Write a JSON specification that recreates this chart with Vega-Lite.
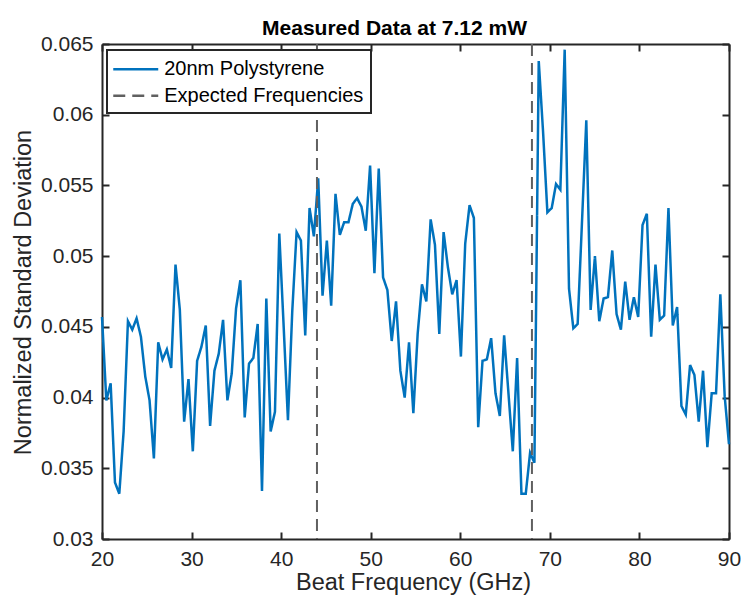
{
  "$schema": "https://vega.github.io/schema/vega-lite/v6.json",
  "width": 627,
  "height": 495,
  "autosize": {"type": "none"},
  "padding": {"left": 102, "top": 44, "right": 14, "bottom": 64},
  "background": "white",
  "title": {
    "text": "Measured Data at 7.12 mW",
    "font": "Liberation Sans",
    "fontSize": 21,
    "fontWeight": "bold",
    "color": "#000000",
    "anchor": "middle",
    "baseline": "alphabetic",
    "offset": 9,
    "dy": 32,
    "dx": -21
  },
  "datasets": {
    "scan": [
      {"frequency": 20.000, "sd": 0.0457}, {"frequency": 20.483, "sd": 0.0398}, {"frequency": 20.966, "sd": 0.0410},
      {"frequency": 21.448, "sd": 0.0340}, {"frequency": 21.931, "sd": 0.0332}, {"frequency": 22.414, "sd": 0.0376},
      {"frequency": 22.897, "sd": 0.0454}, {"frequency": 23.379, "sd": 0.0448}, {"frequency": 23.862, "sd": 0.0456},
      {"frequency": 24.345, "sd": 0.0443}, {"frequency": 24.828, "sd": 0.0415}, {"frequency": 25.310, "sd": 0.0398},
      {"frequency": 25.793, "sd": 0.0357}, {"frequency": 26.276, "sd": 0.0439}, {"frequency": 26.759, "sd": 0.0427},
      {"frequency": 27.241, "sd": 0.0434}, {"frequency": 27.724, "sd": 0.0421}, {"frequency": 28.207, "sd": 0.0494},
      {"frequency": 28.690, "sd": 0.0462}, {"frequency": 29.172, "sd": 0.0383}, {"frequency": 29.655, "sd": 0.0413},
      {"frequency": 30.138, "sd": 0.0362}, {"frequency": 30.621, "sd": 0.0426}, {"frequency": 31.103, "sd": 0.0436},
      {"frequency": 31.586, "sd": 0.0451}, {"frequency": 32.069, "sd": 0.0380}, {"frequency": 32.552, "sd": 0.0419},
      {"frequency": 33.034, "sd": 0.0431}, {"frequency": 33.517, "sd": 0.0455}, {"frequency": 34.000, "sd": 0.0398},
      {"frequency": 34.483, "sd": 0.0417}, {"frequency": 34.966, "sd": 0.0463}, {"frequency": 35.448, "sd": 0.0483},
      {"frequency": 35.931, "sd": 0.0386}, {"frequency": 36.414, "sd": 0.0424}, {"frequency": 36.897, "sd": 0.0428},
      {"frequency": 37.379, "sd": 0.0452}, {"frequency": 37.862, "sd": 0.0334}, {"frequency": 38.345, "sd": 0.0470},
      {"frequency": 38.828, "sd": 0.0376}, {"frequency": 39.310, "sd": 0.0390}, {"frequency": 39.793, "sd": 0.0516},
      {"frequency": 40.276, "sd": 0.0451}, {"frequency": 40.759, "sd": 0.0384}, {"frequency": 41.241, "sd": 0.0461},
      {"frequency": 41.724, "sd": 0.0517}, {"frequency": 42.207, "sd": 0.0511}, {"frequency": 42.690, "sd": 0.0444},
      {"frequency": 43.172, "sd": 0.0534}, {"frequency": 43.655, "sd": 0.0514}, {"frequency": 44.138, "sd": 0.0555},
      {"frequency": 44.621, "sd": 0.0472}, {"frequency": 45.103, "sd": 0.0511}, {"frequency": 45.586, "sd": 0.0465},
      {"frequency": 46.069, "sd": 0.0544}, {"frequency": 46.552, "sd": 0.0515}, {"frequency": 47.034, "sd": 0.0524},
      {"frequency": 47.517, "sd": 0.0524}, {"frequency": 48.000, "sd": 0.0537}, {"frequency": 48.483, "sd": 0.0541},
      {"frequency": 48.966, "sd": 0.0535}, {"frequency": 49.448, "sd": 0.0518}, {"frequency": 49.931, "sd": 0.0564},
      {"frequency": 50.414, "sd": 0.0488}, {"frequency": 50.897, "sd": 0.0562}, {"frequency": 51.379, "sd": 0.0485},
      {"frequency": 51.862, "sd": 0.0476}, {"frequency": 52.345, "sd": 0.0440}, {"frequency": 52.828, "sd": 0.0468},
      {"frequency": 53.310, "sd": 0.0419}, {"frequency": 53.793, "sd": 0.0400}, {"frequency": 54.276, "sd": 0.0439},
      {"frequency": 54.759, "sd": 0.0389}, {"frequency": 55.241, "sd": 0.0445}, {"frequency": 55.724, "sd": 0.0480},
      {"frequency": 56.207, "sd": 0.0468}, {"frequency": 56.690, "sd": 0.0526}, {"frequency": 57.172, "sd": 0.0508},
      {"frequency": 57.655, "sd": 0.0445}, {"frequency": 58.138, "sd": 0.0517}, {"frequency": 58.621, "sd": 0.0492},
      {"frequency": 59.103, "sd": 0.0473}, {"frequency": 59.586, "sd": 0.0483}, {"frequency": 60.069, "sd": 0.0429},
      {"frequency": 60.552, "sd": 0.0509}, {"frequency": 61.034, "sd": 0.0536}, {"frequency": 61.517, "sd": 0.0527},
      {"frequency": 62.000, "sd": 0.0379}, {"frequency": 62.483, "sd": 0.0426}, {"frequency": 62.966, "sd": 0.0427},
      {"frequency": 63.448, "sd": 0.0442}, {"frequency": 63.931, "sd": 0.0403}, {"frequency": 64.414, "sd": 0.0387},
      {"frequency": 64.897, "sd": 0.0444}, {"frequency": 65.379, "sd": 0.0403}, {"frequency": 65.862, "sd": 0.0362},
      {"frequency": 66.345, "sd": 0.0428}, {"frequency": 66.828, "sd": 0.0332}, {"frequency": 67.310, "sd": 0.0332},
      {"frequency": 67.793, "sd": 0.0361}, {"frequency": 68.276, "sd": 0.0354}, {"frequency": 68.759, "sd": 0.0638},
      {"frequency": 69.241, "sd": 0.0588}, {"frequency": 69.724, "sd": 0.0531}, {"frequency": 70.207, "sd": 0.0534},
      {"frequency": 70.690, "sd": 0.0551}, {"frequency": 71.172, "sd": 0.0547}, {"frequency": 71.655, "sd": 0.0646},
      {"frequency": 72.138, "sd": 0.0477}, {"frequency": 72.621, "sd": 0.0449}, {"frequency": 73.103, "sd": 0.0452},
      {"frequency": 73.586, "sd": 0.0524}, {"frequency": 74.069, "sd": 0.0596}, {"frequency": 74.552, "sd": 0.0462},
      {"frequency": 75.034, "sd": 0.0500}, {"frequency": 75.517, "sd": 0.0454}, {"frequency": 76.000, "sd": 0.0470},
      {"frequency": 76.483, "sd": 0.0471}, {"frequency": 76.966, "sd": 0.0504}, {"frequency": 77.448, "sd": 0.0459},
      {"frequency": 77.931, "sd": 0.0448}, {"frequency": 78.414, "sd": 0.0482}, {"frequency": 78.897, "sd": 0.0455},
      {"frequency": 79.379, "sd": 0.0471}, {"frequency": 79.862, "sd": 0.0457}, {"frequency": 80.345, "sd": 0.0522},
      {"frequency": 80.828, "sd": 0.0530}, {"frequency": 81.310, "sd": 0.0443}, {"frequency": 81.793, "sd": 0.0494},
      {"frequency": 82.276, "sd": 0.0455}, {"frequency": 82.759, "sd": 0.0458}, {"frequency": 83.241, "sd": 0.0534},
      {"frequency": 83.724, "sd": 0.0451}, {"frequency": 84.207, "sd": 0.0464}, {"frequency": 84.690, "sd": 0.0394},
      {"frequency": 85.172, "sd": 0.0388}, {"frequency": 85.655, "sd": 0.0423}, {"frequency": 86.138, "sd": 0.0416},
      {"frequency": 86.621, "sd": 0.0383}, {"frequency": 87.103, "sd": 0.0419}, {"frequency": 87.586, "sd": 0.0365},
      {"frequency": 88.069, "sd": 0.0403}, {"frequency": 88.552, "sd": 0.0403}, {"frequency": 89.034, "sd": 0.0473},
      {"frequency": 89.517, "sd": 0.0401}, {"frequency": 90.000, "sd": 0.0367}
    ],
    "expected": [
      {"frequency": 44, "series": "Expected Frequencies"},
      {"frequency": 68, "series": "Expected Frequencies"}
    ]
  },
  "layer": [
    {
      "data": {"name": "scan"},
      "mark": {"type": "line", "strokeWidth": 2.5},
      "encoding": {
        "x": {
          "field": "frequency",
          "type": "quantitative",
          "scale": {"domain": [20, 90], "nice": false},
          "axis": {
            "orient": "bottom",
            "title": "Beat Frequency (GHz)",
            "values": [20, 30, 40, 50, 60, 70, 80, 90],
            "labelFlush": false,
            "titleBaseline": "alphabetic",
            "titleY": 50,
            "titleX": 311
          }
        },
        "y": {
          "field": "sd",
          "type": "quantitative",
          "scale": {"domain": [0.03, 0.065], "nice": false, "zero": false},
          "axis": {
            "orient": "left",
            "title": "Normalized Standard Deviation",
            "values": [0.03, 0.035, 0.04, 0.045, 0.05, 0.055, 0.06, 0.065],
            "format": ".3~f",
            "labelFlush": false,
            "titleBaseline": "alphabetic",
            "titleAngle": -90,
            "titleX": -72,
            "titleY": 248
          }
        },
        "color": {
          "datum": "20nm Polystyrene",
          "type": "nominal",
          "scale": {"domain": ["20nm Polystyrene", "Expected Frequencies"], "range": ["#0072BD", "#606060"]},
          "legend": {"title": null, "symbolType": "M-2,0H2"}
        },
        "strokeDash": {
          "datum": "20nm Polystyrene",
          "type": "nominal",
          "scale": {"domain": ["20nm Polystyrene", "Expected Frequencies"], "range": [[1, 0], [12, 7]]},
          "legend": {"title": null, "symbolType": "M-2,0H2"}
        }
      }
    },
    {
      "data": {"name": "expected"},
      "mark": {"type": "rule", "strokeWidth": 2},
      "encoding": {
        "x": {
          "field": "frequency",
          "type": "quantitative",
          "axis": {"orient": "top", "labels": false, "title": null, "values": [20, 30, 40, 50, 60, 70, 80, 90]}
        },
        "color": {"field": "series", "type": "nominal", "legend": {"title": null, "symbolType": "M-2,0H2"}},
        "strokeDash": {"field": "series", "type": "nominal", "legend": {"title": null, "symbolType": "M-2,0H2"}}
      }
    },
    {
      "data": {"name": "scan"},
      "mark": {"type": "line", "opacity": 0},
      "encoding": {
        "x": {"field": "frequency", "type": "quantitative", "axis": null},
        "y": {
          "field": "sd",
          "type": "quantitative",
          "axis": {"orient": "right", "labels": false, "title": null, "values": [0.03, 0.035, 0.04, 0.045, 0.05, 0.055, 0.06, 0.065]}
        }
      }
    }
  ],
  "resolve": {"axis": {"x": "independent", "y": "independent"}},
  "config": {
    "view": {"stroke": null},
    "axis": {
      "grid": false,
      "domainColor": "#262626",
      "domainWidth": 2,
      "tickColor": "#262626",
      "tickWidth": 2,
      "tickSize": -7,
      "labelFont": "Liberation Sans",
      "labelFontSize": 21,
      "labelColor": "#262626",
      "labelPadding": 16,
      "titleFont": "Liberation Sans",
      "titleFontSize": 23.5,
      "titleFontWeight": "normal",
      "titleColor": "#262626"
    },
    "legend": {
      "orient": "none",
      "legendX": 5,
      "legendY": 6,
      "strokeColor": "#262626",
      "strokeWidth": 2,
      "fillColor": "#ffffff",
      "padding": 6.75,
      "symbolSize": 506,
      "symbolOffset": 9.5,
      "symbolStrokeWidth": 2.5,
      "labelFont": "Liberation Sans",
      "labelFontSize": 20,
      "labelColor": "#000000",
      "labelOffset": 16,
      "labelLimit": 0,
      "rowPadding": 3.5
    }
  }
}
